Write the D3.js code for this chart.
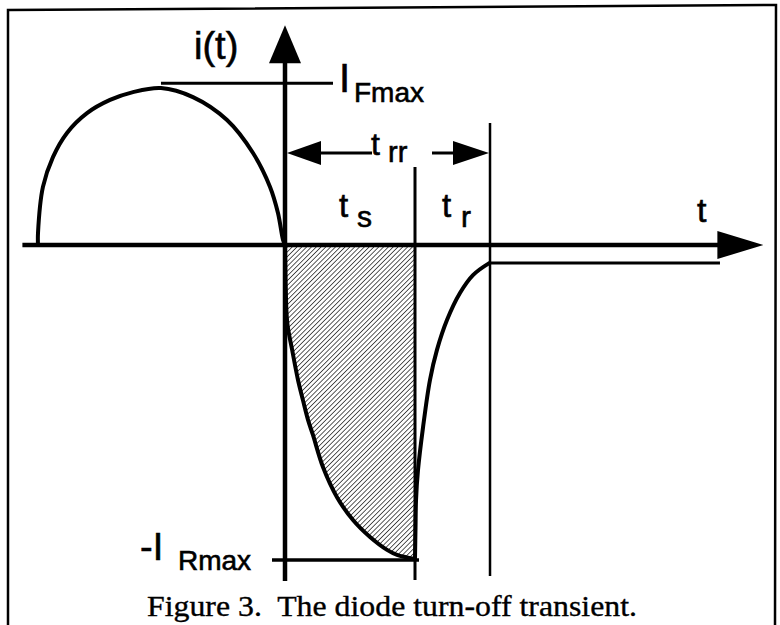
<!DOCTYPE html>
<html>
<head>
<meta charset="utf-8">
<script src="https://cdnjs.cloudflare.com/ajax/libs/d3/7.8.5/d3.min.js"></script>
<style>
  html, body { margin: 0; padding: 0; background: #fff; }
  svg { display: block; }
  .lbl { font-family: "Liberation Sans", Arial, sans-serif; fill: #000; stroke: #000; stroke-width: 0.6px; }
  .caption { font-family: "Liberation Serif", "Times New Roman", serif; fill: #000; stroke: #000; stroke-width: 0.35px; }
</style>
</head>
<body>
<script>
// time is in units of ts (storage time), current in units of IRmax
var tsEnd = 1.0;
var trrEnd = 1.577;
var iFmax = 0.515;
var iRmax = -1.0;
var iTail = -0.057;

// forward conduction half wave
var fwdT = [-1.90, -1.90, -1.862, -1.785, -1.677, -1.523, -1.346, -1.169, -0.954, -0.708, -0.446, -0.246, -0.115, -0.054, -0.015, 0];
var fwdI = [0, 0.038, 0.185, 0.280, 0.357, 0.420, 0.462, 0.487, 0.500, 0.471, 0.398, 0.293, 0.185, 0.102, 0.016, 0];

// storage phase, 0 -> ts
var stoT = [0, 0.006, 0.018, 0.055, 0.100, 0.138, 0.177, 0.215, 0.292, 0.400, 0.523, 0.654, 0.785, 0.862, 1.0];
var stoI = [0, -0.143, -0.250, -0.334, -0.430, -0.494, -0.557, -0.605, -0.707, -0.803, -0.876, -0.930, -0.971, -0.987, -1.0];

// recovery phase, ts -> trr and the leakage tail
var recT = [1.0, 1.004, 1.008, 1.023, 1.062, 1.115, 1.169, 1.246, 1.346, 1.446, 1.562, 1.577];
var recI = [-1.0, -0.90, -0.812, -0.717, -0.580, -0.430, -0.334, -0.239, -0.153, -0.096, -0.060, -0.057];
var tailT = [1.577, 3.346];

var axisT = [-2.02, 3.68];
var axisI = [-1.07, 0.70];

var width = 780, height = 625;

var x = d3.scaleLinear().domain([0, 1]).range([285, 415]);
var y = d3.scaleLinear().domain([-1, 0.5]).range([559, 88]);

var svg = d3.select("body").append("svg")
    .attr("width", width)
    .attr("height", height);

// hatch pattern for the stored charge
var defs = svg.append("defs");
defs.append("pattern")
    .attr("id", "hatch")
    .attr("patternUnits", "userSpaceOnUse")
    .attr("width", 3.4)
    .attr("height", 3.4)
    .attr("patternTransform", "rotate(45)")
    .append("line")
    .attr("x1", 0).attr("y1", 0)
    .attr("x2", 0).attr("y2", 3.4)
    .attr("stroke", "#000")
    .attr("stroke-width", 1.3);

// frame (open at the bottom)
svg.append("path")
    .attr("d", "M8,625 L8,10 L776,5 L775,625")
    .attr("fill", "none")
    .attr("stroke", "#000")
    .attr("stroke-width", 2.5);

function pts(ts, is) {
    return ts.map(function(t, k) { return [t, is[k]]; });
}

var line = d3.line()
    .x(function(d) { return x(d[0]); })
    .y(function(d) { return y(d[1]); })
    .curve(d3.curveCatmullRom.alpha(0.5));

var area = d3.area()
    .x(function(d) { return x(d[0]); })
    .y0(y(0))
    .y1(function(d) { return y(d[1]); })
    .curve(d3.curveCatmullRom.alpha(0.5));

svg.append("path")
    .datum(pts(stoT, stoI))
    .attr("d", area)
    .attr("fill", "url(#hatch)");

// axes
svg.append("line")
    .attr("x1", x(axisT[0])).attr("y1", y(0))
    .attr("x2", x(axisT[1]) - 40).attr("y2", y(0))
    .attr("stroke", "#000").attr("stroke-width", 4.5);
svg.append("path")
    .attr("d", "M" + x(axisT[1]) + "," + y(0) + " L" + (x(axisT[1]) - 46) + "," + (y(0) - 14) + " L" + (x(axisT[1]) - 46) + "," + (y(0) + 14) + " Z")
    .attr("fill", "#000");

svg.append("line")
    .attr("x1", x(0)).attr("y1", y(axisI[0]))
    .attr("x2", x(0)).attr("y2", y(axisI[1]) + 34)
    .attr("stroke", "#000").attr("stroke-width", 4.5);
svg.append("path")
    .attr("d", "M" + x(0) + "," + y(axisI[1]) + " L" + (x(0) - 16) + "," + (y(axisI[1]) + 38) + " L" + (x(0) + 16) + "," + (y(axisI[1]) + 38) + " Z")
    .attr("fill", "#000");

// ts and trr markers
svg.append("line")
    .attr("x1", x(tsEnd)).attr("y1", 167)
    .attr("x2", x(tsEnd)).attr("y2", 580)
    .attr("stroke", "#000").attr("stroke-width", 3);
svg.append("line")
    .attr("x1", x(trrEnd)).attr("y1", 123)
    .attr("x2", x(trrEnd)).attr("y2", 576)
    .attr("stroke", "#000").attr("stroke-width", 2.5);

// IFmax and IRmax guide lines
svg.append("line")
    .attr("x1", x(-0.954)).attr("y1", y(iFmax))
    .attr("x2", 333).attr("y2", y(iFmax))
    .attr("stroke", "#000").attr("stroke-width", 3);
svg.append("line")
    .attr("x1", 272).attr("y1", y(iRmax) + 1)
    .attr("x2", x(tsEnd) + 4).attr("y2", y(iRmax) + 1)
    .attr("stroke", "#000").attr("stroke-width", 3.5);

// trr arrows
var ya = 153;
svg.append("line")
    .attr("x1", x(0) + 30).attr("y1", ya).attr("x2", 372).attr("y2", ya)
    .attr("stroke", "#000").attr("stroke-width", 3);
svg.append("path")
    .attr("d", "M" + (x(0) + 2) + "," + ya + " L" + (x(0) + 36) + "," + (ya - 12) + " L" + (x(0) + 36) + "," + (ya + 12) + " Z")
    .attr("fill", "#000");
svg.append("line")
    .attr("x1", 432).attr("y1", ya).attr("x2", x(trrEnd) - 30).attr("y2", ya)
    .attr("stroke", "#000").attr("stroke-width", 3);
svg.append("path")
    .attr("d", "M" + (x(trrEnd) - 1) + "," + ya + " L" + (x(trrEnd) - 37) + "," + (ya - 12) + " L" + (x(trrEnd) - 37) + "," + (ya + 12) + " Z")
    .attr("fill", "#000");

// current waveform
svg.append("path")
    .datum(pts(fwdT, fwdI))
    .attr("d", line)
    .attr("fill", "none").attr("stroke", "#000").attr("stroke-width", 4);
svg.append("path")
    .datum(pts(stoT, stoI))
    .attr("d", line)
    .attr("fill", "none").attr("stroke", "#000").attr("stroke-width", 4);
svg.append("path")
    .datum(pts(recT, recI))
    .attr("d", line)
    .attr("fill", "none").attr("stroke", "#000").attr("stroke-width", 4);
svg.append("line")
    .attr("x1", x(tailT[0])).attr("y1", y(iTail))
    .attr("x2", x(tailT[1])).attr("y2", y(iTail))
    .attr("stroke", "#000").attr("stroke-width", 3);

// labels
function lbl(tx, ty, size, s) {
    return svg.append("text")
        .attr("class", "lbl")
        .attr("x", tx).attr("y", ty)
        .style("font-size", size + "px")
        .text(s);
}
lbl(194, 59, 38, "i(t)");
lbl(339, 92, 40, "I");
lbl(354, 102, 28, "Fmax");
lbl(371, 155, 32, "t");
lbl(388, 162, 29, "rr");
lbl(339, 217, 33, "t");
lbl(357, 227, 30, "s");
lbl(442, 217, 33, "t");
lbl(461, 227, 30, "r");
lbl(697, 222, 34, "t");
lbl(140, 560, 38, "-I");
lbl(178, 570, 28, "Rmax");

svg.append("text")
    .attr("class", "caption")
    .attr("x", 147).attr("y", 616)
    .attr("textLength", 490)
    .attr("lengthAdjust", "spacingAndGlyphs")
    .style("font-size", "29px")
    .style("white-space", "pre")
    .text("Figure 3.  The diode turn-off transient.");
</script>
</body>
</html>
